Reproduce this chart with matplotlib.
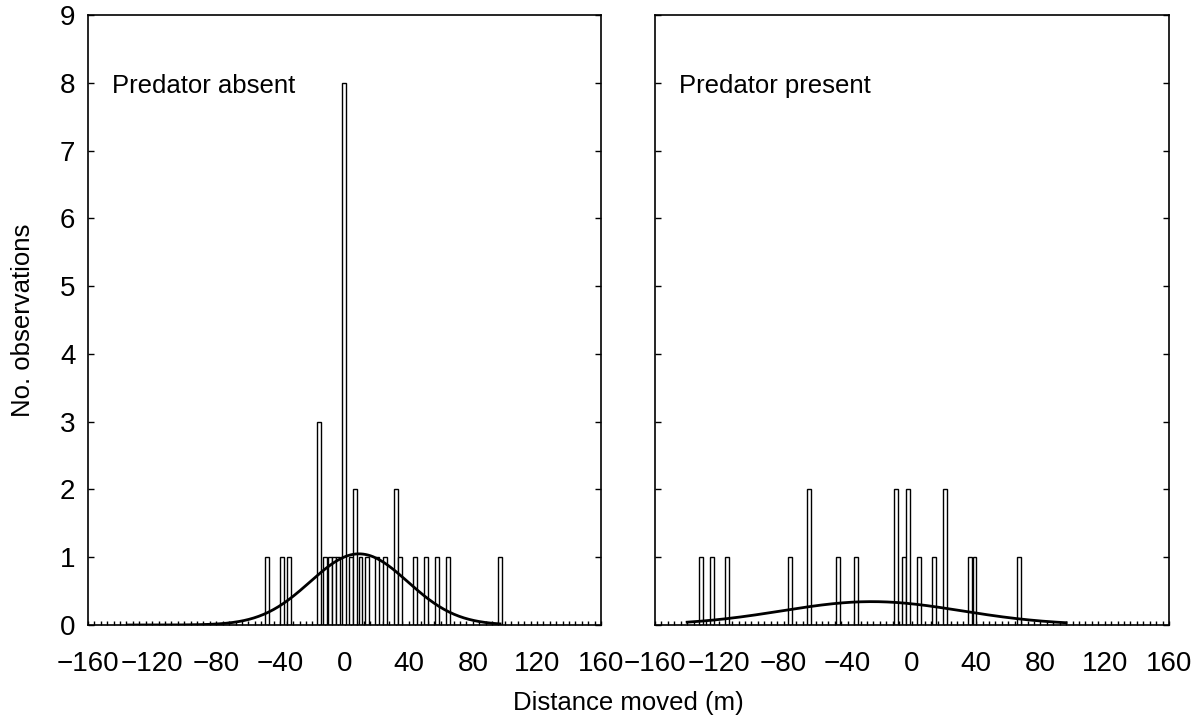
import numpy as np
import matplotlib
matplotlib.use('Agg')
from matplotlib import pyplot as plt

plt.rcParams['font.family'] = ['Liberation Sans', 'DejaVu Sans']

# ----- Data -----
# Predator absent: distance moved (m) and number of observations
absent_x = [-48.4, -39.0, -34.8, -16.1, -12.0, -9.3, -6.8, -4.3, -0.3, 3.8, 6.6,
            10.0, 13.9, 20.4, 25.2, 32.2, 34.8, 44.2, 51.0, 57.6, 64.6, 96.8]
absent_n = [1, 1, 1, 3, 1, 1, 1, 1, 8, 1, 2,
            1, 1, 1, 1, 2, 1, 1, 1, 1, 1, 1]

# Predator present
present_x = [-131.3, -124.4, -115.0, -75.8, -64.3, -46.1, -34.7, -9.7, -5.0, -2.6,
             4.2, 13.5, 20.4, 36.3, 38.9, 66.5]
present_n = [1, 1, 1, 1, 2, 1, 1, 2, 1, 2,
             1, 1, 2, 1, 1, 1]

# fitted normal curves (mean, sd, peak height, range drawn)
absent_fit = dict(mu=9.0, sd=30.5, peak=1.05, lo=-135, hi=97)
present_fit = dict(mu=-25.0, sd=56.0, peak=0.345, lo=-140, hi=96)

xticks = [-160, -120, -80, -40, 0, 40, 80, 120, 160]
yticks = list(range(0, 10))

SIZE = 20
LABSIZE = 18.5
plt.rc('font', size=SIZE)

fig = plt.figure(figsize=(11.94, 7.17), dpi=100)
ax1 = fig.add_axes([0.0737, 0.1283, 0.4297, 0.8507])
ax2 = fig.add_axes([0.5486, 0.1283, 0.4304, 0.8507])


def draw_panel(ax, xs, ns, fit, title, show_ylabels):
    ax.bar(xs, ns, width=2.4, color='white', edgecolor='black', linewidth=1.0, zorder=2)
    xc = np.linspace(fit['lo'], fit['hi'], 300)
    yc = fit['peak'] * np.exp(-0.5 * ((xc - fit['mu']) / fit['sd']) ** 2)
    ax.plot(xc, yc, color='black', linewidth=2.0, zorder=3)
    ax.set_xlim(-160, 160)
    ax.set_ylim(0, 9)
    ax.set_xticks(xticks)
    ax.set_xticks(np.arange(-160, 161, 4), minor=True)
    ax.set_yticks(yticks)
    ax.tick_params(axis='x', which='both', direction='in', length=3, width=1,
                   top=False, pad=19, labelsize=SIZE)
    ax.tick_params(axis='y', which='both', direction='in', length=4, width=1,
                   left=True, right=True, pad=9, labelsize=SIZE,
                   labelleft=show_ylabels)
    for s in ax.spines.values():
        s.set_linewidth(1.2)
    ax.text(-145, 7.95, title, fontsize=LABSIZE, va='center', ha='left')


draw_panel(ax1, absent_x, absent_n, absent_fit, 'Predator absent', True)
draw_panel(ax2, present_x, present_n, present_fit, 'Predator present', False)

fig.text(0.019, 0.553, 'No. observations', rotation=90, fontsize=LABSIZE,
         va='center', ha='center')
fig.text(0.526, 0.0195, 'Distance moved (m)', fontsize=LABSIZE, va='center', ha='center')

plt.savefig('out.png', dpi=100)
